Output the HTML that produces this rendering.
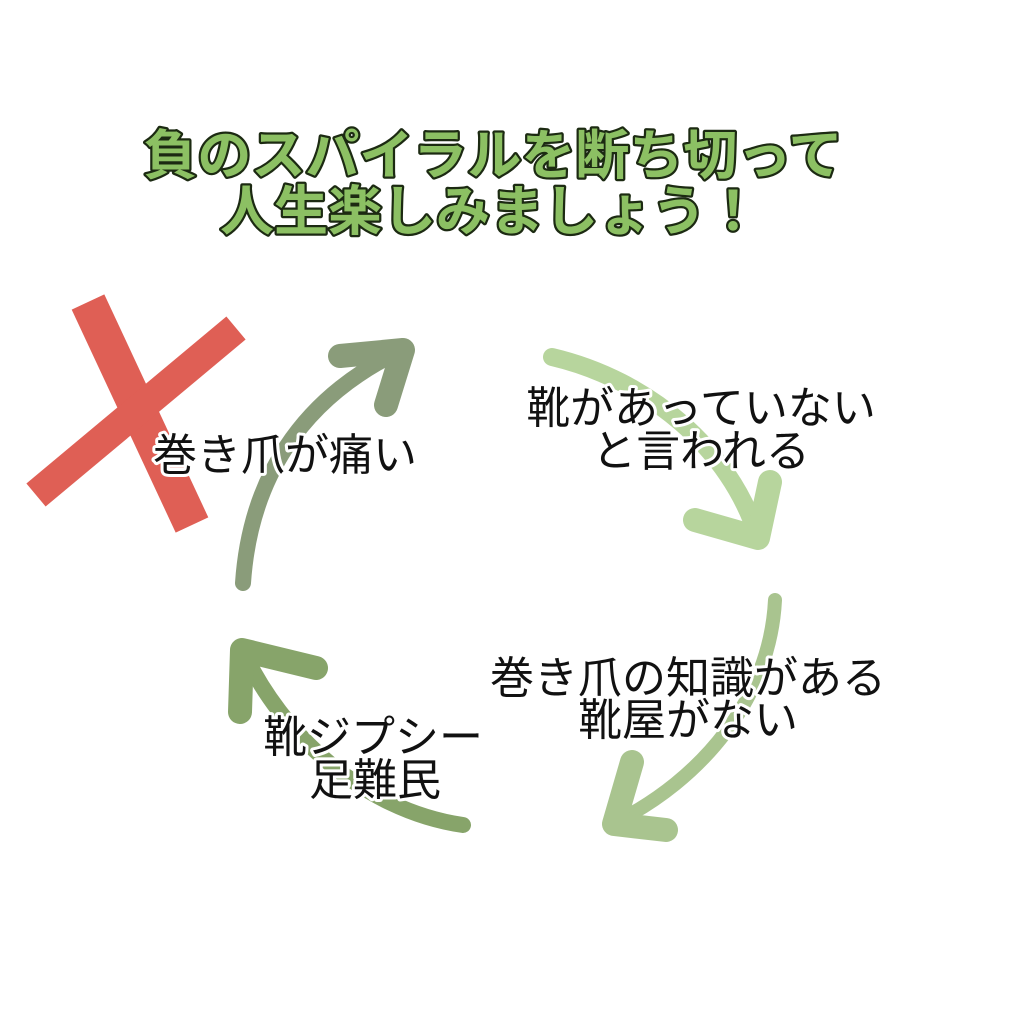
<!DOCTYPE html>
<html><head><meta charset="utf-8"><style>
html,body{margin:0;padding:0;background:#fff;}
svg{display:block}
.t{font-family:"Liberation Sans","Noto Sans CJK JP",sans-serif;font-size:44px;fill:#111;stroke:#fff;stroke-width:6px;paint-order:stroke;stroke-linejoin:round;text-anchor:middle}
.h{font-family:"Liberation Sans","Noto Sans CJK JP",sans-serif;font-weight:700;font-size:54px;fill:#8cc063;stroke:#1c2a12;stroke-width:4.5px;paint-order:stroke;stroke-linejoin:round;text-anchor:middle}
</style></head><body>
<svg width="1024" height="1024" viewBox="0 0 1024 1024">
<rect width="1024" height="1024" fill="#fff"/>
<text class="h" x="493" y="174">負のスパイラルを断ち切って</text>
<text class="h" x="490" y="230">人生楽しみましょう！</text>
<g stroke="#df5f55" stroke-linecap="butt" fill="none">
<path d="M88 302 L192 525" stroke-width="36"/>
<path d="M236 328 L36 495" stroke-width="30"/>
</g>
<g fill="none" stroke="#8a9c7a" stroke-linecap="round" stroke-linejoin="round">
<path d="M243 583 C250 480 300 400 398 352" stroke-width="16"/>
<path d="M340 356 L403 350 L386 405" stroke-width="24"/>
</g>
<g fill="none" stroke="#b7d59d" stroke-linecap="round" stroke-linejoin="round">
<path d="M552 357 C650 380 730 450 757 535" stroke-width="18"/>
<path d="M695 520 L758 538 L770 482" stroke-width="24"/>
</g>
<g fill="none" stroke="#a9c48f" stroke-linecap="round" stroke-linejoin="round">
<path d="M775 600 C770 700 700 780 616 822" stroke-width="14"/>
<path d="M632 762 L614 824 L666 830" stroke-width="24"/>
</g>
<g fill="none" stroke="#87a46a" stroke-linecap="round" stroke-linejoin="round">
<path d="M463 825 C360 810 280 730 245 655" stroke-width="16"/>
<path d="M316 668 L242 650 L240 712" stroke-width="24"/>
</g>
<text class="t" x="285" y="470">巻き爪が痛い</text>
<text class="t" x="701" y="423">靴があっていない</text>
<text class="t" x="701" y="466">と言われる</text>
<text class="t" x="688" y="693">巻き爪の知識がある</text>
<text class="t" x="688" y="735">靴屋がない</text>
<text class="t" x="373" y="752">靴ジプシー</text>
<text class="t" x="375" y="795">足難民</text>
</svg>
</body></html>
